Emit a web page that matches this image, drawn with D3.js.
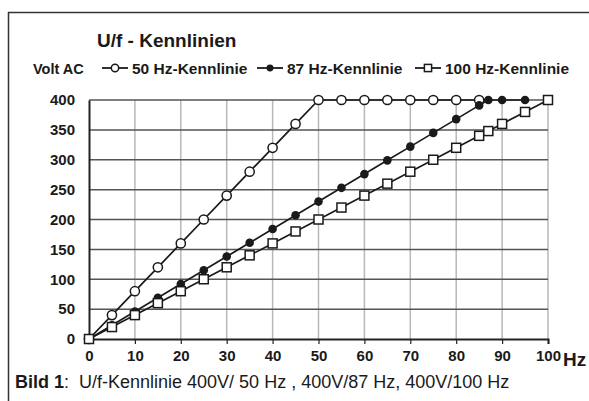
<!DOCTYPE html>
<meta charset="utf-8">
<script src="https://cdn.jsdelivr.net/npm/d3@7"></script>
<style>
body { margin: 0; background: #fff; }
text { font-family: "Liberation Sans", Arial, sans-serif; fill: #1a1a1a; }
.lbl { font-weight: bold; }
</style>
<body>
<script>

// data
var hz50x  = [0, 5, 10, 15, 20, 25, 30, 35, 40, 45, 50, 55, 60, 65, 70, 75, 80, 85];
var hz50y  = [0, 40, 80, 120, 160, 200, 240, 280, 320, 360, 400, 400, 400, 400, 400, 400, 400, 400];
var hz87x  = [0, 5, 10, 15, 20, 25, 30, 35, 40, 45, 50, 55, 60, 65, 70, 75, 80, 85, 87, 90, 95];
var hz87y  = [0, 23, 46, 69, 92, 115, 138, 161, 184, 207, 230, 253, 276, 299, 322, 345, 368, 391, 400, 400, 400];
var hz100x = [0, 5, 10, 15, 20, 25, 30, 35, 40, 45, 50, 55, 60, 65, 70, 75, 80, 85, 87, 90, 95, 100];
var hz100y = [0, 20, 40, 60, 80, 100, 120, 140, 160, 180, 200, 220, 240, 260, 280, 300, 320, 340, 348, 360, 380, 400];
var xTicks = [0, 10, 20, 30, 40, 50, 60, 70, 80, 90, 100];
var yTicks = [0, 50, 100, 150, 200, 250, 300, 350, 400];
var seriesNames = ["50 Hz-Kennlinie", "87 Hz-Kennlinie", "100 Hz-Kennlinie"];

var W = 589, H = 401;
var x = d3.scaleLinear().domain([0, 100]).range([89, 548]);
var y = d3.scaleLinear().domain([0, 400]).range([339, 100]);

var svg = d3.select("body").append("svg")
    .attr("width", W).attr("height", H);

// frame (top + left only)
svg.append("line").attr("x1", 8).attr("x2", W).attr("y1", 12.5).attr("y2", 12.5)
    .attr("stroke", "#333").attr("stroke-width", 1.5);
svg.append("line").attr("x1", 8.5).attr("x2", 8.5).attr("y1", 12).attr("y2", H)
    .attr("stroke", "#333").attr("stroke-width", 1.5);

// vertical grid
svg.selectAll(".vg").data(xTicks.slice(1)).enter().append("line")
    .attr("x1", d => x(d)).attr("x2", d => x(d))
    .attr("y1", y(400)).attr("y2", y(0))
    .attr("stroke", "#b8b8b8").attr("stroke-width", 1.5);

// horizontal grid
svg.selectAll(".hg").data(yTicks.slice(1)).enter().append("line")
    .attr("x1", x(0)).attr("x2", x(100))
    .attr("y1", d => y(d)).attr("y2", d => y(d))
    .attr("stroke", "#555").attr("stroke-width", 1.5);

// x axis
var xAxis = svg.append("g")
    .attr("transform", "translate(0," + y(0) + ")")
    .call(d3.axisBottom(x).tickValues(xTicks).tickSize(5).tickPadding(6));
xAxis.select(".domain").attr("stroke", "#222").attr("stroke-width", 2);
xAxis.selectAll(".tick line").attr("stroke", "#222").attr("stroke-width", 1.2);
xAxis.selectAll("text").style("font-size", "15px")
    .style("font-family", "Liberation Sans, Arial").style("font-weight", "bold").attr("fill", "#1a1a1a");

// y axis
var yAxis = svg.append("g")
    .attr("transform", "translate(" + x(0) + ",0)")
    .call(d3.axisLeft(y).tickValues(yTicks).tickSize(0).tickPadding(14));
yAxis.select(".domain").attr("stroke", "#222").attr("stroke-width", 2);
yAxis.selectAll("text").style("font-size", "15px")
    .style("font-family", "Liberation Sans, Arial").style("font-weight", "bold").attr("fill", "#1a1a1a");

var line = d3.line().x(d => x(d[0])).y(d => y(d[1]));
function pts(xs, ys) { return xs.map((v, i) => [v, ys[i]]); }

var d50 = pts(hz50x, hz50y), d87 = pts(hz87x, hz87y), d100 = pts(hz100x, hz100y);

[d50, d87, d100].forEach(function(d) {
  svg.append("path").datum(d).attr("d", line)
      .attr("fill", "none").attr("stroke", "#1a1a1a").attr("stroke-width", 1.7);
});

// markers
function marker(g, type, cx, cy, s) {
  s = s || 1;
  if (type === 0) {
    g.append("circle").attr("cx", cx).attr("cy", cy).attr("r", 4.6 * s)
        .attr("fill", "#fff").attr("stroke", "#1a1a1a").attr("stroke-width", 1.5);
  } else if (type === 1) {
    g.append("circle").attr("cx", cx).attr("cy", cy).attr("r", 4.3 * s)
        .attr("fill", "#1a1a1a");
  } else {
    g.append("rect").attr("x", cx - 4.5 * s).attr("y", cy - 4.5 * s)
        .attr("width", 9 * s).attr("height", 9 * s)
        .attr("fill", "#fff").attr("stroke", "#1a1a1a").attr("stroke-width", 1.5);
  }
}
var mg = svg.append("g");
d50.forEach(d => marker(mg, 0, x(d[0]), y(d[1])));
d87.forEach(d => marker(mg, 1, x(d[0]), y(d[1])));
d100.forEach(d => marker(mg, 2, x(d[0]), y(d[1])));

// title and labels
svg.append("text").attr("class", "lbl").attr("x", 97).attr("y", 47)
    .style("font-size", "19px").text("U/f - Kennlinien");
svg.append("text").attr("class", "lbl").attr("x", 33).attr("y", 74)
    .style("font-size", "14.5px").text("Volt AC");
svg.append("text").attr("class", "lbl").attr("x", 563).attr("y", 366)
    .style("font-size", "19px").text("Hz");

// legend
var legX = [102, 257, 415];
seriesNames.forEach(function(name, i) {
  var lx = legX[i], ly = 68;
  svg.append("line").attr("x1", lx).attr("x2", lx + 26).attr("y1", ly).attr("y2", ly)
      .attr("stroke", "#1a1a1a").attr("stroke-width", 1.8);
  marker(svg, i, lx + 13, ly, 0.8);
  svg.append("text").attr("class", "lbl").attr("x", lx + 30).attr("y", ly + 5.5)
      .style("font-size", "15.5px").text(name);
});

// caption
var cap = svg.append("text").attr("x", 15).attr("y", 388).style("font-size", "18px");
cap.append("tspan").style("font-weight", "bold").text("Bild 1");
cap.append("tspan").attr("xml:space", "preserve").style("white-space", "pre")
    .text(":  U/f-Kennlinie 400V/ 50 Hz , 400V/87 Hz, 400V/100 Hz");

</script>
</body>
